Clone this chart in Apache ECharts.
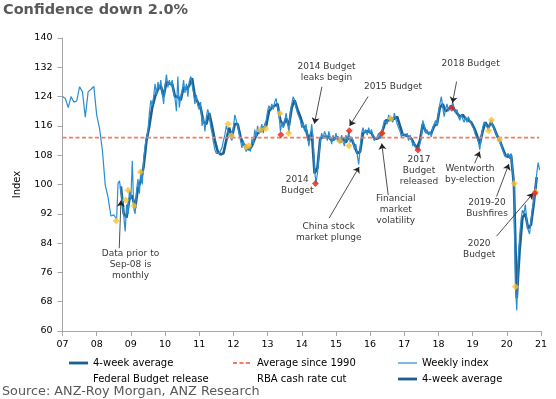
<!DOCTYPE html>
<html>
<head>
<meta charset="utf-8">
<script src="https://cdn.jsdelivr.net/npm/echarts@6/dist/echarts.min.js"></script>
<style>
  html, body { margin: 0; padding: 0; background: #fff; }
  #main { width: 556px; height: 399px; }
</style>
</head>
<body>
<div id="main"></div>
<script>
// monthly survey readings, Jan-07 .. Aug-08
var monthlyStart = 2007;
var monthlyIndex = [124.0, 123.5, 121.0, 124.0, 122.5, 122.8, 126.7, 125.3, 118.4, 125.3, 126.0, 126.8,
  119.0, 115.3, 109.4, 99.9, 96.5, 91.4, 91.7, 90.5];

// weekly index, read every second week from mid Aug-08
var weeklyStart = 2008.625;
var weeklyIndex = [
  100.3, 101.0, 101.2, 95.5, 91.5, 87.2, 94.5, 92.0, 98.5,
  96.0, 106.5, 93.5, 92.0, 98.5, 101.5, 97.5, 104.0, 100.0, 107.0, 110.5, 113.0, 114.5, 119.5, 123.0, 121.5, 124.0, 127.5, 124.5, 128.0, 126.0, 128.5, 125.0, 122.0,
  127.0, 130.0, 126.5, 128.5, 127.0, 128.5, 125.0, 123.5, 120.0, 129.5, 121.0, 124.0, 125.5, 128.5, 125.0, 127.5, 124.0, 128.0, 129.5, 130.0, 125.0, 122.0, 124.5, 121.5,
  120.5, 122.5, 116.0, 118.5, 114.5, 118.5, 120.5, 119.0, 116.0, 114.0, 111.5, 109.5, 108.5, 108.0, 108.5, 108.0, 110.0, 112.0, 113.5, 116.0, 116.5, 113.5, 113.5, 112.0,
  115.5, 119.0, 117.5, 116.0, 114.0, 112.0, 110.0, 112.0, 110.0, 109.0, 108.5, 110.5, 109.0, 112.5, 111.0, 115.0, 113.0, 116.0, 114.0, 115.0, 116.5, 114.0, 116.5, 117.5,
  120.0, 121.5, 120.5, 122.0, 120.5, 122.5, 123.5, 121.0, 119.5, 114.5, 117.0, 115.5, 117.0, 119.5, 117.0, 114.0, 120.0, 122.0, 124.0, 123.0, 121.0, 119.5, 120.0, 117.5,
  115.5, 117.0, 114.5, 116.5, 113.0, 110.5, 113.0, 116.5, 112.0, 104.0, 100.3, 103.0, 107.5, 112.0, 114.0, 112.5, 114.5, 113.5, 112.0, 114.5, 113.0, 111.0, 113.5, 112.0,
  114.0, 112.0, 111.5, 112.0, 113.5, 111.5, 110.5, 113.5, 112.0, 114.5, 111.5, 113.0, 112.0, 109.5, 111.0, 108.0, 105.5, 110.0, 114.0, 115.5, 114.0, 115.0, 113.5, 115.5,
  114.0, 115.0, 113.0, 112.0, 111.5, 113.0, 114.0, 112.5, 114.0, 115.5, 117.5, 118.0, 116.5, 119.0, 118.0, 118.5, 117.0, 119.5, 118.0, 116.5, 115.5, 114.5, 113.0, 114.0,
  114.5, 113.0, 114.0, 112.0, 113.5, 112.5, 110.5, 111.5, 110.0, 109.5, 109.4, 111.0, 113.0, 117.5, 116.0, 114.0, 115.0, 113.5, 114.5, 113.0, 115.5, 116.5, 117.5, 116.0,
  119.5, 122.0, 124.0, 121.0, 118.5, 120.5, 122.0, 120.0, 121.5, 120.8, 122.5, 121.0, 119.5, 120.5, 118.5, 117.5, 119.0, 119.5, 117.0, 118.5, 117.0, 118.5, 118.0, 116.5,
  116.0, 115.0, 113.5, 113.0, 112.0, 109.5, 113.0, 115.5, 117.0, 117.5, 116.0, 114.7, 116.5, 117.6, 116.0, 115.5, 114.5, 114.0, 112.0, 112.3, 111.0, 109.5, 110.0, 107.5,
  107.0, 108.5, 107.0, 108.5, 108.0, 100.3, 72.1, 65.6, 80.0, 86.0, 90.5, 93.0, 92.0, 94.5, 90.0, 87.5, 86.5, 90.5, 93.5, 96.0, 98.0, 103.0, 106.0, 104.0
];

// 4-week average, one reading per month from mid Sep-08
var avgStart = 2008.708;
var avgIndex = [
  99.5, 92, 91, 96,
  97, 93.5, 99, 101, 105, 112, 116, 121, 124, 126, 127, 124,
  128, 127.5, 127.5, 124, 124, 123, 126.5, 126, 127, 129, 124, 122.5,
  121, 117, 116.5, 119.5, 116, 112, 109, 108.2, 108.5, 112, 115.5, 113,
  116.5, 116.5, 113, 111, 110.5, 109.5, 110.5, 112.5, 114, 114.5, 115.5, 116,
  120, 121, 121.5, 122, 117.5, 116, 118, 116, 121, 123, 120.5, 118.5,
  116, 115, 112, 114.5, 103, 104.5, 112.5, 113, 113, 113, 112, 112.5,
  113, 111.5, 112.5, 111.5, 113, 112.5, 110.5, 108.5, 109, 114, 114.5, 114.5,
  114, 112.5, 112.5, 113, 115, 117.5, 117.5, 118, 118, 118.5, 116, 113.5,
  113.5, 113, 112.5, 111, 110, 112, 116.5, 114.5, 114, 114, 116, 116.5,
  121, 122, 120, 120.5, 121.5, 120.5, 119.5, 118.5, 119, 118, 117.5, 117,
  115.5, 113.5, 111, 114.5, 117, 115.5, 117, 115.5, 113.5, 112, 110, 108,
  107.5, 108, 100, 69, 82, 91, 92, 88, 89, 95, 102
];

var avgSince1990 = 112.8;
var avgSpan = [2007, 2020.95];

var budgetDates = [2013.39, 2014.40, 2015.39, 2016.35, 2017.40, 2018.39, 2020.82];
var budgetValues = [113.6, 100.3, 114.7, 114.0, 109.4, 120.8, 97.6];

var cutDates = [2008.57, 2008.85, 2008.92, 2009.09, 2009.28, 2011.84, 2011.94, 2012.37, 2012.45, 2012.78, 2012.94,
  2013.36, 2013.62, 2015.11, 2015.38, 2016.35, 2016.60, 2019.47, 2019.55, 2019.79, 2020.22, 2020.25, 2020.84];
var cutValues = [90.1, 95.8, 98.4, 94.2, 103.4, 116.5, 113.4, 110.3, 110.6, 114.9, 115.3,
  119.4, 114.0, 111.9, 110.6, 114.0, 118.0, 114.7, 117.6, 112.3, 100.3, 72.1, 98.0];

// annotation texts, where they sit, and arrow from/to
var noteTexts = ['Data prior to\nSep-08 is\nmonthly', '2014 Budget\nleaks begin', '2015 Budget', '2018 Budget',
  '2014\nBudget', 'China stock\nmarket plunge', 'Financial\nmarket\nvolatility', '2017\nBudget\nreleased',
  'Wentworth\nby-election', '2019-20\nBushfires', '2020\nBudget'];
var noteAt = [[2008.99, 78.0], [2014.725, 130.8], [2016.67, 126.7], [2018.94, 133.1], [2013.87, 99.8],
  [2014.79, 87.0], [2016.75, 93.0], [2017.43, 103.8], [2018.92, 102.8], [2019.42, 93.5], [2019.19, 82.3]];
var arrows = [
  [[2008.66, 82.6], [2008.71, 95.6]],
  [[2014.59, 126.7], [2014.37, 116.6]],
  [[2015.94, 124.0], [2015.40, 116.0]],
  [[2018.53, 128.1], [2018.41, 122.3]],
  [[2014.80, 90.8], [2015.68, 104.8]],
  [[2016.53, 97.1], [2016.34, 111.2]],
  [[2019.06, 105.8], [2019.21, 109.0]],
  [[2019.70, 96.7], [2020.06, 105.6]],
  [[2019.70, 85.9], [2020.77, 97.6]]
];

var yMin = 60, yMax = 140, yStep = 8;
var xMin = 2007, xMax = 2021;

var weeklyData = monthlyIndex.map(function (v, i) { return [monthlyStart + i / 12, v]; })
  .concat(weeklyIndex.map(function (v, i) { return [weeklyStart + i / 24, v]; }));
var avgData = avgIndex.map(function (v, i) { return [avgStart + i / 12, v]; });

// legend glyphs: a 19x16 box with a strip across the middle
var thickIcon = 'path://M0,0M19,16M0,6.6H19V9.4H0Z';
var thinIcon = 'path://M0,0M19,16M0,7.4H19V8.6H0Z';
var dashIcon = 'path://M0,0M19,16M0,7H4V9H0ZM6.5,7H10.5V9H6.5ZM13,7H17V9H13Z';

var font = 'DejaVu Sans';
var legendBase = { top: 350, orient: 'vertical', itemGap: 0, itemWidth: 19, itemHeight: 16, selectedMode: false,
  itemStyle: { borderWidth: 0 }, textStyle: { fontSize: 10, color: '#000', fontFamily: font } };

var myChart = echarts.init(document.getElementById('main'));
myChart.setOption({
  animation: false,
  title: [
    { text: 'Confidence down 2.0%', left: 3, top: 3, padding: 0,
      textStyle: { fontSize: 14.5, fontWeight: 'bold', color: '#595959', fontFamily: font } },
    { text: 'Source: ANZ-Roy Morgan, ANZ Research', left: 2, top: 385, padding: 0,
      textStyle: { fontSize: 12.8, fontWeight: 'normal', color: '#595959', fontFamily: font } }
  ],
  legend: [
    Object.assign({ left: 64, data: [{ name: '4-week average', icon: thickIcon },
      { name: 'Federal Budget release', icon: 'none' }] }, legendBase),
    Object.assign({ left: 228, data: [{ name: 'Average since 1990', icon: dashIcon },
      { name: 'RBA cash rate cut', icon: 'none' }] }, legendBase),
    Object.assign({ left: 393, data: [{ name: 'Weekly index', icon: thinIcon },
      { name: '4-week average\u200b', icon: thickIcon }] }, legendBase)
  ],
  grid: { left: 62.5, right: 15, top: 38, bottom: 68 },
  xAxis: {
    type: 'value', min: xMin, max: xMax, interval: 1,
    axisLine: { lineStyle: { color: '#a6a6a6' } },
    axisTick: { length: 5, lineStyle: { color: '#a6a6a6' } },
    splitLine: { show: false },
    axisLabel: { fontSize: 9.5, color: '#000', fontFamily: font, margin: 9,
      formatter: function (v) { return ('0' + (v % 100)).slice(-2); } }
  },
  yAxis: {
    type: 'value', min: yMin, max: yMax, interval: yStep,
    name: 'Index', nameLocation: 'middle', nameGap: 40,
    nameTextStyle: { fontSize: 10, color: '#000', fontFamily: font },
    axisLine: { show: true, lineStyle: { color: '#a6a6a6' } },
    axisTick: { show: true, length: 5, lineStyle: { color: '#a6a6a6' } },
    splitLine: { show: false },
    axisLabel: { fontSize: 9.5, color: '#000', fontFamily: font, margin: 10 }
  },
  series: [
    { name: '4-week average', type: 'line', data: avgData, showSymbol: false, symbol: 'none',
      lineStyle: { color: '#1d5f8f', width: 2.6 }, itemStyle: { color: '#1d5f8f' }, z: 2 },
    { name: 'Weekly index', type: 'line', data: weeklyData, showSymbol: false, symbol: 'none',
      lineStyle: { color: '#2a8dd0', width: 1.2 }, itemStyle: { color: '#2a8dd0' }, z: 3 },
    { name: 'Average since 1990', type: 'line', symbol: 'none',
      data: avgSpan.map(function (t) { return [t, avgSince1990]; }),
      lineStyle: { color: '#f47b62', width: 1.8, type: [4, 2.5] }, itemStyle: { color: '#f47b62' }, z: 4 },
    { name: '4-week average\u200b', type: 'line', symbol: 'none', data: [],
      lineStyle: { color: '#1d5f8f', width: 2.6 }, itemStyle: { color: '#1d5f8f' } },
    { name: 'RBA cash rate cut', type: 'scatter', symbol: 'diamond', symbolSize: 7,
      data: cutDates.map(function (t, i) { return [t, cutValues[i]]; }),
      itemStyle: { color: '#fcc12e' }, z: 5 },
    { name: 'Federal Budget release', type: 'scatter', symbol: 'diamond', symbolSize: 7,
      data: budgetDates.map(function (t, i) { return [t, budgetValues[i]]; }),
      itemStyle: { color: '#e3211c' }, z: 6 },
    { name: 'notes', type: 'scatter', symbol: 'circle', symbolSize: 1, z: 7, silent: true,
      itemStyle: { color: 'rgba(0,0,0,0)' },
      data: noteTexts.map(function (s, i) { return { name: s, value: noteAt[i] }; }),
      label: { show: true, position: 'inside', formatter: '{b}', fontSize: 9, lineHeight: 11,
        color: '#000', fontFamily: font, align: 'center', verticalAlign: 'middle' },
      markLine: {
        silent: true, symbol: ['none', 'arrow'], symbolSize: 6, label: { show: false },
        lineStyle: { color: '#222', width: 0.8, type: 'solid' },
        data: arrows.map(function (a) { return [{ coord: a[0] }, { coord: a[1] }]; })
      }
    }
  ]
});
</script>
</body>
</html>
